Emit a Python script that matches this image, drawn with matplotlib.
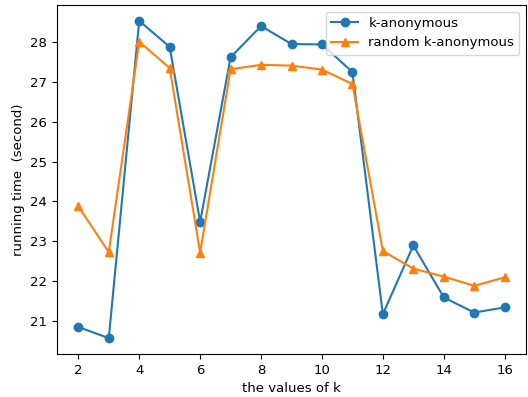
import matplotlib
matplotlib.use("Agg")
import matplotlib.pyplot as plt

k = [2, 3, 4, 5, 6, 7, 8, 9, 10, 11, 12, 13, 14, 15, 16]
k_anon = [20.86, 20.58, 28.52, 27.87, 23.49, 27.61, 28.39, 27.94, 27.93, 27.24,
          21.18, 22.90, 21.60, 21.22, 21.35]
rand_k_anon = [23.88, 22.73, 28.0, 27.34, 22.72, 27.31, 27.42, 27.40, 27.30, 26.94,
               22.76, 22.32, 22.12, 21.89, 22.10]

plt.rcParams['font.size'] = 9.5

fig = plt.figure(figsize=(5.28, 3.97), dpi=100)
ax = fig.add_subplot(111)
fig.subplots_adjust(left=57/528, right=526/528, bottom=1-354/397, top=1-5/397)

ax.plot(k, k_anon, marker='o', label='k-anonymous')
ax.plot(k, rand_k_anon, marker='^', label='random k-anonymous')

ax.set_xticks([2, 4, 6, 8, 10, 12, 14, 16])
ax.set_yticks([21, 22, 23, 24, 25, 26, 27, 28])
ax.set_xlabel('the values of k')
ax.set_ylabel('running time  (second)')
ax.legend(loc='upper right')

fig.savefig('out.png', dpi=100)
